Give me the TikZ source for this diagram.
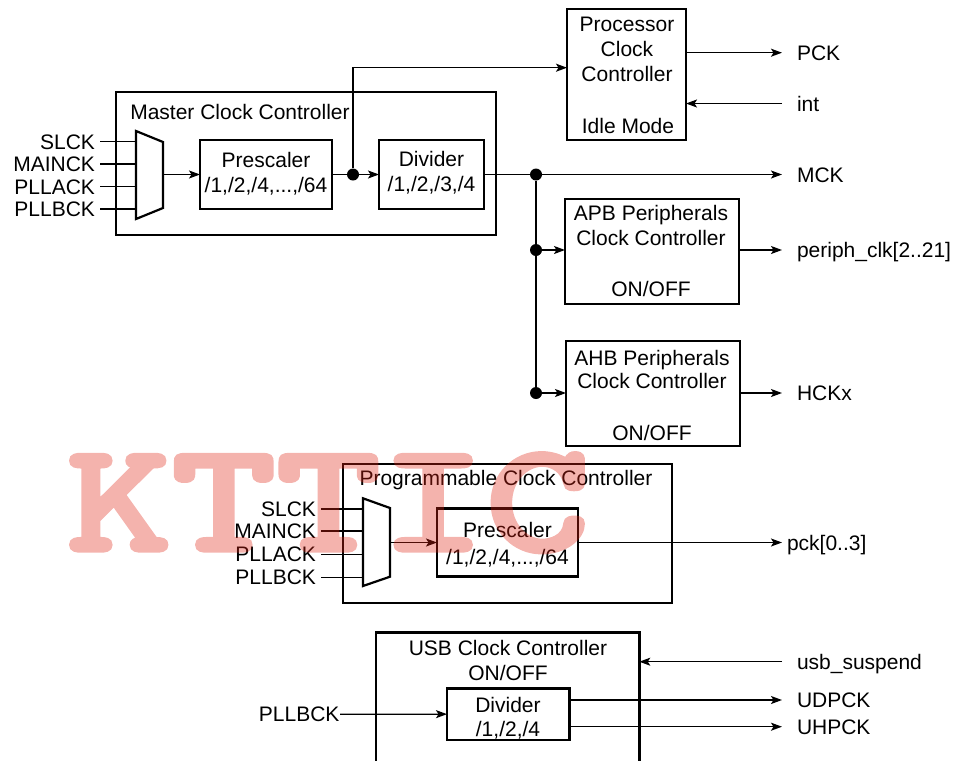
\documentclass[tikz,border=0pt]{standalone}
\usepackage{fontspec}
\usepackage{graphicx}
\setmainfont{Liberation Sans}
\newfontfamily\wmfont{lmmonolt10-bold.otf}[FakeBold=2.5]
\usetikzlibrary{arrows.meta}
\definecolor{wmred}{RGB}{224,36,20}
\begin{document}
\begin{tikzpicture}[x=1pt,y=-1pt,
  font=\fontsize{21}{25}\selectfont,
  blk/.style={draw, line width=2.6pt, inner sep=0pt, outer sep=0pt, anchor=north west},
  txt/.style={inner sep=0pt, outer sep=0pt, text height=15pt, text depth=0pt},
  llab/.style={txt, anchor=east, inner xsep=5pt},
  rlab/.style={txt, anchor=west, inner xsep=15pt},
  wire/.style={line width=1.3pt},
  arr/.style={wire, -{Stealth[length=11pt,width=8pt,inset=2.5pt]}},
  dot/.style={circle, fill, inner sep=0pt, minimum size=12pt},
  muxs/.style={line width=2.2pt, line join=miter},
]
\useasboundingbox (0,0) rectangle (962,761);

% ---------------- Master clock controller ----------------
\node[blk, minimum width=380pt, minimum height=143pt] (mcc) at (116,92) {};
\node[txt] (mcct) at (240,112) {Master Clock Controller};

\draw[muxs] (136,131) -- (163,142) -- (163,208) -- (136,219) -- cycle;
\coordinate (mxi1) at (136,141.7);
\coordinate (mxi2) at (136,164);
\coordinate (mxi3) at (136,186.7);
\coordinate (mxi4) at (136,209);
\coordinate (mxo) at (163,174.5);

\node[llab] (ms1) at (100,141.7) {SLCK};
\node[llab] (ms2) at (100,164) {MAINCK};
\node[llab] (ms3) at (100,186.7) {PLLACK};
\node[llab] (ms4) at (100,209) {PLLBCK};
\draw[wire] (ms1.east) -- (mxi1);
\draw[wire] (ms2.east) -- (mxi2);
\draw[wire] (ms3.east) -- (mxi3);
\draw[wire] (ms4.east) -- (mxi4);

\node[blk, minimum width=132pt, minimum height=69pt] (pre) at (200,140) {};
\node[txt] (pret1) at (266,160) {Prescaler};
\node[txt] (pret2) at (266,185) {/1,/2,/4,...,/64};
\draw[arr] (mxo) -- (pre.west);

\node[dot] (d1) at (353,174.5) {};
\node[blk, minimum width=105pt, minimum height=69pt] (div) at (379,140) {};
\node[txt] (divt1) at (431.5,159) {Divider};
\node[txt] (divt2) at (431.5,184) {/1,/2,/3,/4};
\draw[wire] (pre.east) -- (d1);
\draw[arr] (d1) -- (div.west);

% ---------------- Processor clock controller ----------------
\node[blk, minimum width=119pt, minimum height=131pt] (pcc) at (567,9) {};
\node[txt] (pcct1) at (627,23.7) {Processor};
\node[txt] (pcct2) at (627,49) {Clock};
\node[txt] (pcct3) at (627,73.5) {Controller};
\node[txt] (pcct4) at (628,125.5) {Idle Mode};
\path (pcc.north west) ++(0,58.7) coordinate (pccin);
\draw[arr] (d1) |- (pccin);

\node[rlab] (pck) at (782,52.7) {PCK};
\node[rlab] (int) at (782,103.5) {int};
\draw[arr] (pcc.east |- pck.west) -- (pck.west);
\draw[arr] (int.west) -- (pcc.east |- int.west);

% ---------------- MCK distribution ----------------
\node[rlab] (mck) at (782,174.5) {MCK};
\node[dot] (d2) at (536,174.5) {};
\node[dot] (d3) at (536,250) {};
\node[dot] (d4) at (536,393) {};
\draw[wire] (div.east) -- (d2);
\draw[arr] (d2) -- (mck.west);
\draw[wire] (d2) -- (d3) -- (d4);

\node[blk, minimum width=174pt, minimum height=105pt] (apb) at (565,199) {};
\node[txt] (apbt1) at (651,212.5) {APB Peripherals};
\node[txt] (apbt2) at (651,237.5) {Clock Controller};
\node[txt] (apbt3) at (651,289) {ON/OFF};
\draw[arr] (d3) -- (d3 -| apb.west);
\node[rlab] (per) at (782,250) {periph\_clk[2..21]};
\draw[arr] (apb.east |- per.west) -- (per.west);

\node[blk, minimum width=174pt, minimum height=105pt] (ahb) at (566,341) {};
\node[txt] (ahbt1) at (652,357.5) {AHB Peripherals};
\node[txt] (ahbt2) at (652,381.3) {Clock Controller};
\node[txt] (ahbt3) at (652,433) {ON/OFF};
\draw[arr] (d4) -- (d4 -| ahb.west);
\node[rlab] (hck) at (782,393) {HCKx};
\draw[arr] (ahb.east |- hck.west) -- (hck.west);

% ---------------- Programmable clock controller ----------------
\node[blk, minimum width=329pt, minimum height=139pt] (pgc) at (343,464) {};
\node[txt] (pgct) at (506,478.3) {Programmable Clock Controller};

\draw[muxs] (363,498.3) -- (390,508) -- (390,576.7) -- (363,586) -- cycle;
\coordinate (pxi1) at (363,509);
\coordinate (pxi2) at (363,531);
\coordinate (pxi3) at (363,554.3);
\coordinate (pxi4) at (363,577.3);
\coordinate (pxo) at (390,542.5);

\node[llab] (ps1) at (321,509) {SLCK};
\node[llab] (ps2) at (321,531) {MAINCK};
\node[llab] (ps3) at (321,554.3) {PLLACK};
\node[llab] (ps4) at (321,577.3) {PLLBCK};
\draw[wire] (ps1.east) -- (pxi1);
\draw[wire] (ps2.east) -- (pxi2);
\draw[wire] (ps3.east) -- (pxi3);
\draw[wire] (ps4.east) -- (pxi4);

\node[blk, minimum width=141pt, minimum height=68.4pt] (pre2) at (437,508.3) {};
\node[txt] (pre2t1) at (507.5,530) {Prescaler};
\node[txt] (pre2t2) at (507.5,556.7) {/1,/2,/4,...,/64};
\draw[arr] (pxo) -- (pre2.west);
\node[rlab, inner xsep=5pt] (pckx) at (782,542.5) {pck[0..3]};
\draw[arr] (pre2.east) -- (pckx.west);

% ---------------- USB clock controller ----------------
\node[blk, minimum width=263.3pt, minimum height=150pt] (usb) at (376,632.7) {};
\node[txt] (usbt1) at (508,648) {USB Clock Controller};
\node[txt] (usbt2) at (508,673.3) {ON/OFF};
\node[blk, minimum width=122.3pt, minimum height=51.7pt] (div2) at (447,688.3) {};
\node[txt] (div2t1) at (508,704.5) {Divider};
\node[txt] (div2t2) at (508,729) {/1,/2,/4};

\node[txt, anchor=east, inner xsep=0.5pt] (pllb) at (340,714.2) {PLLBCK};
\draw[arr] (pllb.east) -- (div2.west);

\node[rlab] (usbs) at (782,661.7) {usb\_suspend};
\draw[arr] (usbs.west) -- (usbs.west -| usb.east);
\node[rlab] (udp) at (782,700) {UDPCK};
\node[rlab] (uhp) at (782,726.7) {UHPCK};
\draw[arr] (div2.east |- udp.west) -- (udp.west);
\draw[arr] (div2.east |- uhp.west) -- (uhp.west);

% ---------------- watermark ----------------
\begin{scope}[transparency group, opacity=0.35]
\node[inner sep=0pt, anchor=base, text=wmred,
      font=\fontsize{157}{157}\wmfont] (wm) at (328.5,550.7)
      {\scalebox{1.27}[1]{KTTIC}};
\end{scope}
\end{tikzpicture}
\end{document}
